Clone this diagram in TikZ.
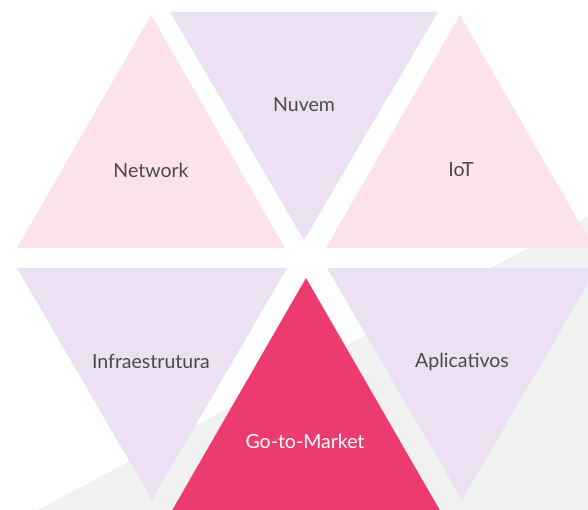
\documentclass[tikz,border=0pt]{standalone}
\usepackage{fontspec}
\setmainfont{Lato}
\definecolor{pinkt}{HTML}{FBE2EB}
\definecolor{lavt}{HTML}{ECE1F2}
\definecolor{redt}{HTML}{EC3B6E}
\definecolor{grayb}{HTML}{F1F1F1}
\definecolor{txt}{HTML}{4A4A4A}
\tikzset{
  lbl/.style={font=\fontsize{19.5}{22}\selectfont, text=txt, inner sep=0pt},
  lblw/.style={lbl, text=white},
}
\begin{document}
\begin{tikzpicture}[x=1pt,y=-1pt]
\useasboundingbox (0,0) rectangle (588,510);
\clip (0,0) rectangle (588,510);
\fill[white] (0,0) rectangle (588,510);
% background gray shape
\fill[grayb] (38,510) -- (600,210) -- (600,520) -- cycle;
% top row
\fill[pinkt] (151,15) -- (285,248) -- (17,248) -- cycle;
\fill[lavt] (170,12) -- (438,12) -- (304,240) -- cycle;
\fill[pinkt] (460,15) -- (594,248) -- (326,248) -- cycle;
% bottom row
\fill[lavt] (17,268) -- (287,268) -- (152,500) -- cycle;
\fill[redt] (306,278) -- (442,514) -- (170,514) -- cycle;
\fill[lavt] (327,268) -- (597,268) -- (462,500) -- cycle;
% labels
\node[lbl] (nuvem) at (304,105) {Nuvem};
\node[lbl] (network) at (151,170) {Network};
\node[lbl] (iot) at (461,170) {IoT};
\node[lbl] (infra) at (151,361) {Infraestrutura};
\node[lbl] (apl) at (462,362) {Aplicativos};
\node[lblw] (gtm) at (305,441) {Go-to-Market};
\end{tikzpicture}
\end{document}
